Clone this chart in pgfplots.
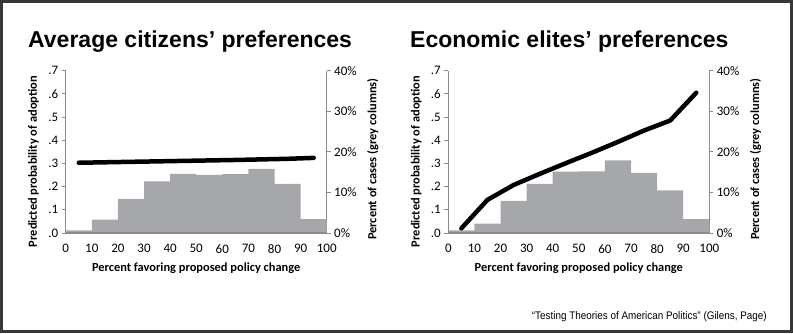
\documentclass[border=0pt]{standalone}
\usepackage{pgfplots}
\pgfplotsset{compat=1.18}
\usepackage{fontspec}
\setmainfont{Carlito}
\newfontfamily\titlefont{Liberation Sans}
\newfontfamily\narrowfont[FakeStretch=0.9]{Liberation Sans}
\definecolor{bargray}{RGB}{166,167,170}
\definecolor{axgray}{RGB}{140,140,140}
\definecolor{framegray}{RGB}{55,55,55}

\pgfplotstableread{
x y
0 0.66
10 3.3
20 8.4
30 12.7
40 14.6
50 14.3
60 14.5
70 15.8
80 12.1
90 3.4
100 3.4
}\barsA
\pgfplotstableread{
x y
0 0.66
10 2.3
20 7.9
30 12.1
40 15.1
50 15.2
60 17.9
70 14.8
80 10.5
90 3.4
100 3.4
}\barsB
\pgfplotstableread{
x y
5 0.303
25 0.307
45 0.311
65 0.315
85 0.320
95 0.324
}\lineA
\pgfplotstableread{
x y
5 0.020
15 0.143
25 0.207
35 0.255
45 0.301
55 0.346
65 0.393
75 0.442
85 0.485
95 0.605
}\lineB

\pgfplotsset{
  panelbase/.style={scale only axis, width=261pt, height=162.3pt,
    xmin=0, xmax=100,
    ticklabel style={font=\fontsize{13}{15}\selectfont},
    /pgf/number format/assume math mode=true,
    axis line style={axgray, line width=1.2pt},
    tick style={axgray, line width=1pt},
    major tick length=4pt, tick align=outside,
    label style={font=\bfseries\fontsize{12.4}{14}\selectfont}},
  barax/.style={panelbase, ymin=0, ymax=40,
    axis x line=none, axis y line*=right,
    ytick={0,10,20,30,40},
    yticklabel={\pgfmathprintnumber{\tick}\%},
    ylabel={Percent of cases (grey columns)},
    ylabel style={at={(axis description cs:1.177,0.455)}, anchor=center}},
  lineax/.style={panelbase, ymin=0, ymax=0.7,
    axis y line*=left, axis x line*=bottom,
    xtick={0,10,20,30,40,50,60,70,80,90,100},
    x tick style={draw=none},
    xticklabel style={yshift=-4pt},
    ytick={0,0.1,0.2,0.3,0.4,0.5,0.6,0.7},
    yticklabels={.0,.1,.2,.3,.4,.5,.6,.7},
    xlabel={Percent favoring proposed policy change},
    ylabel={Predicted probability of adoption},
    xlabel style={at={(axis description cs:0.5,-0.216)}, anchor=center},
    ylabel style={at={(axis description cs:-0.123,0.44)}, anchor=center}},
}

\begin{document}
\begin{tikzpicture}
\useasboundingbox (0,0) rectangle (793pt,333pt);
\draw[framegray, line width=3pt] (1.5pt,1.5pt) rectangle (791.5pt,331.5pt);

% Left panel
\begin{axis}[barax, at={(65.7pt,100pt)}, anchor=south west]
\addplot[ybar interval, fill=bargray, draw=none] table[x=x,y=y] {\barsA};
\end{axis}
\begin{axis}[lineax, at={(65.7pt,100pt)}, anchor=south west]
\addplot[black, line width=4.5pt, line cap=round, line join=round] table[x=x,y=y] {\lineA};
\end{axis}

% Right panel
\begin{axis}[barax, at={(448.3pt,100pt)}, anchor=south west]
\addplot[ybar interval, fill=bargray, draw=none] table[x=x,y=y] {\barsB};
\end{axis}
\begin{axis}[lineax, at={(448.3pt,100pt)}, anchor=south west]
\addplot[black, line width=4.5pt, line cap=round, line join=round] table[x=x,y=y] {\lineB};
\end{axis}

\node[inner sep=0pt, anchor=base west, font=\titlefont\bfseries\fontsize{23}{27}\selectfont] at (28pt,286pt) {Average citizens’ preferences};
\node[inner sep=0pt, anchor=base west, font=\titlefont\bfseries\fontsize{23}{27}\selectfont] at (410pt,286pt) {Economic elites’ preferences};
\node[inner sep=0pt, anchor=base east, font=\narrowfont\fontsize{11}{13}\selectfont] at (767pt,14pt) {“Testing Theories of American Politics” (Gilens, Page)};
\end{tikzpicture}
\end{document}
